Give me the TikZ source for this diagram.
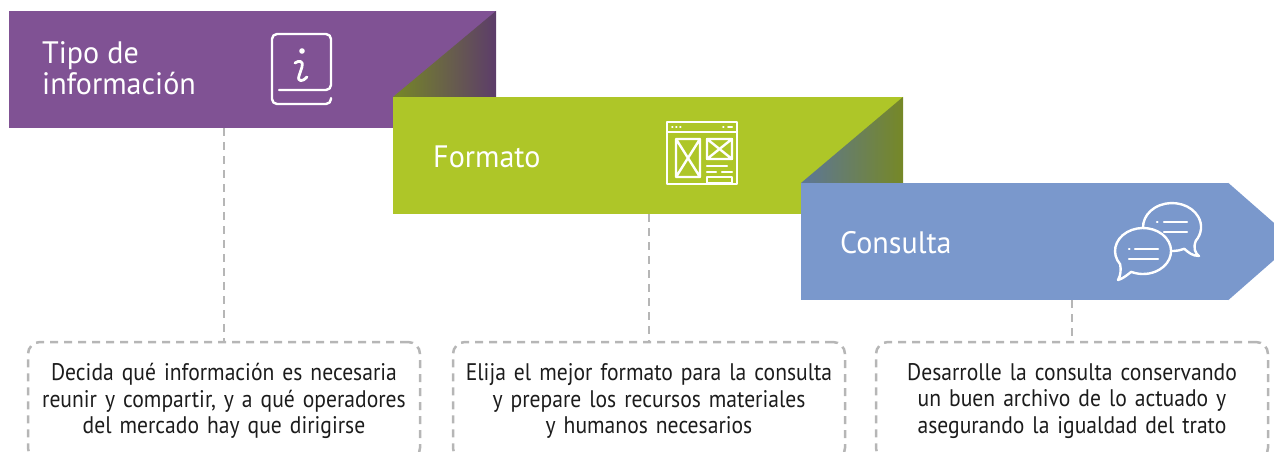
\documentclass[tikz,border=0pt]{standalone}
\usepackage{fontspec}
\setmainfont{PT Sans}[FakeStretch=0.9]
\newfontfamily\fuentetitulo{PT Sans}[FakeStretch=0.97]
\usetikzlibrary{positioning,calc}
\definecolor{morado}{RGB}{128,82,148}
\definecolor{verde}{RGB}{174,198,40}
\definecolor{azul}{RGB}{122,152,204}
\definecolor{oliva}{RGB}{118,136,38}
\definecolor{moradooscuro}{RGB}{92,60,106}
\definecolor{pizarra}{RGB}{92,118,152}
\definecolor{guiagris}{RGB}{182,182,182}
\definecolor{textogris}{RGB}{28,28,28}

\begin{document}
\begin{tikzpicture}[x=1pt,y=-1pt,
  banda/.style={rectangle, inner sep=0pt, minimum height=117pt},
  titulo/.style={text=white, font=\fuentetitulo\fontsize{31}{32}\selectfont, anchor=base west, inner sep=0pt, align=left},
  guia/.style={draw=guiagris, line width=2.5pt, dash pattern=on 8pt off 6pt},
  caja/.style={guia, rounded corners=12pt, minimum width=392pt, minimum height=118pt, text width=385pt, align=center, text=textogris, font=\fontsize{24}{26.5}\selectfont},
  icono/.style={draw=white, line width=2.4pt, line cap=round, line join=round}]
  \useasboundingbox (0,0) rectangle (1274,452);
  % bandas
  \node[banda, fill=morado, minimum width=487pt] (tipo) at (252.5,69.5) {};
  \shade[left color=oliva, right color=moradooscuro] (393,97) -- (tipo.north east) -- (tipo.east |- 0,97) -- cycle;
  \node[banda, fill=verde, minimum width=510pt] (formato) at (648,155.5) {};
  \shade[left color=pizarra, right color=oliva] (801,183) -- (formato.north east) -- (formato.east |- 0,183) -- cycle;
  \node[banda, fill=azul, minimum width=427pt] (consulta) at (1014.5,241.5) {};
  \fill[azul] (consulta.north east) -- ($(consulta.east)+(67,0)$) -- (consulta.south east) -- cycle;
  % titulos
  \node[titulo] (tipotxt) at (42,95) {Tipo de\\información};
  \node[titulo] (formatotxt) at (433,167) {Formato};
  \node[titulo] (consultatxt) at (840,253) {Consulta};
  % iconos
  \draw[icono, rounded corners=5pt] (331,98) -- (331,104) -- (272,104) -- (272,34) -- (331,34) -- (331,90) -- (279,90);
  \fill[white] (302,51) circle (2.8pt);
  \draw[icono, line width=2.8pt] (295,63) .. controls (299,60) and (304,61) .. (302,67) -- (299,76) .. controls (297,82) and (303,82) .. (307,77);
  \draw[icono] (667,122) rectangle (737,184);
  \draw[icono] (667,132) -- (737,132);
  \foreach \x in {672,676,680,723}
    \draw[icono, line width=2pt] (\x,127) -- (\x+0.5,127);
  \draw[icono, line width=2pt] (728,127) -- (732,127);
  \draw[icono] (676,139) rectangle (700,177) (676,139) -- (700,177) (700,139) -- (676,177);
  \draw[icono] (707,139) rectangle (732,159) (707,139) -- (732,159) (732,139) -- (707,159);
  \draw[icono] (707,166) -- (727,166) (707,172) -- (716,172) (722,172) -- (732,172);
  \draw[icono] (707,177) rectangle (732,183);
  \draw[icono, fill=azul] (1184.3,248.8) arc[start angle=65, end angle=395, x radius=29, y radius=24]
    .. controls (1193,248) and (1195,253) .. (1199,256) .. controls (1192,256) and (1188,252) .. cycle;
  \draw[icono] (1157,222) -- (1157.5,222) (1164,222) -- (1187,222) (1164,232) -- (1187,232);
  \draw[icono, fill=azul] (1120.1,264.2) arc[start angle=145, end angle=475, x radius=28, y radius=23]
    .. controls (1126,276) and (1122,279) .. (1118,280) .. controls (1121,275) and (1121,269) .. cycle;
  \draw[icono] (1129,249) -- (1129.5,249) (1135,249) -- (1158,249) (1129,259) -- (1158,259);
  % cajas
  \node[caja] (decida) at (224,401) {Decida qué información es necesaria\\reunir y compartir, y a qué operadores\\del mercado hay que dirigirse};
  \node[caja] (elija) at (649,401) {Elija el mejor formato para la consulta\\y prepare los recursos materiales\\y humanos necesarios};
  \node[caja] (desarrolle) at (1072,401) {Desarrolle la consulta conservando\\un buen archivo de lo actuado y\\asegurando la igualdad del trato};
  \draw[guia] (decida.north |- tipo.south) -- (decida.north);
  \draw[guia] (elija.north |- formato.south) -- (elija.north);
  \draw[guia] (desarrolle.north |- consulta.south) -- (desarrolle.north);
\end{tikzpicture}
\end{document}
